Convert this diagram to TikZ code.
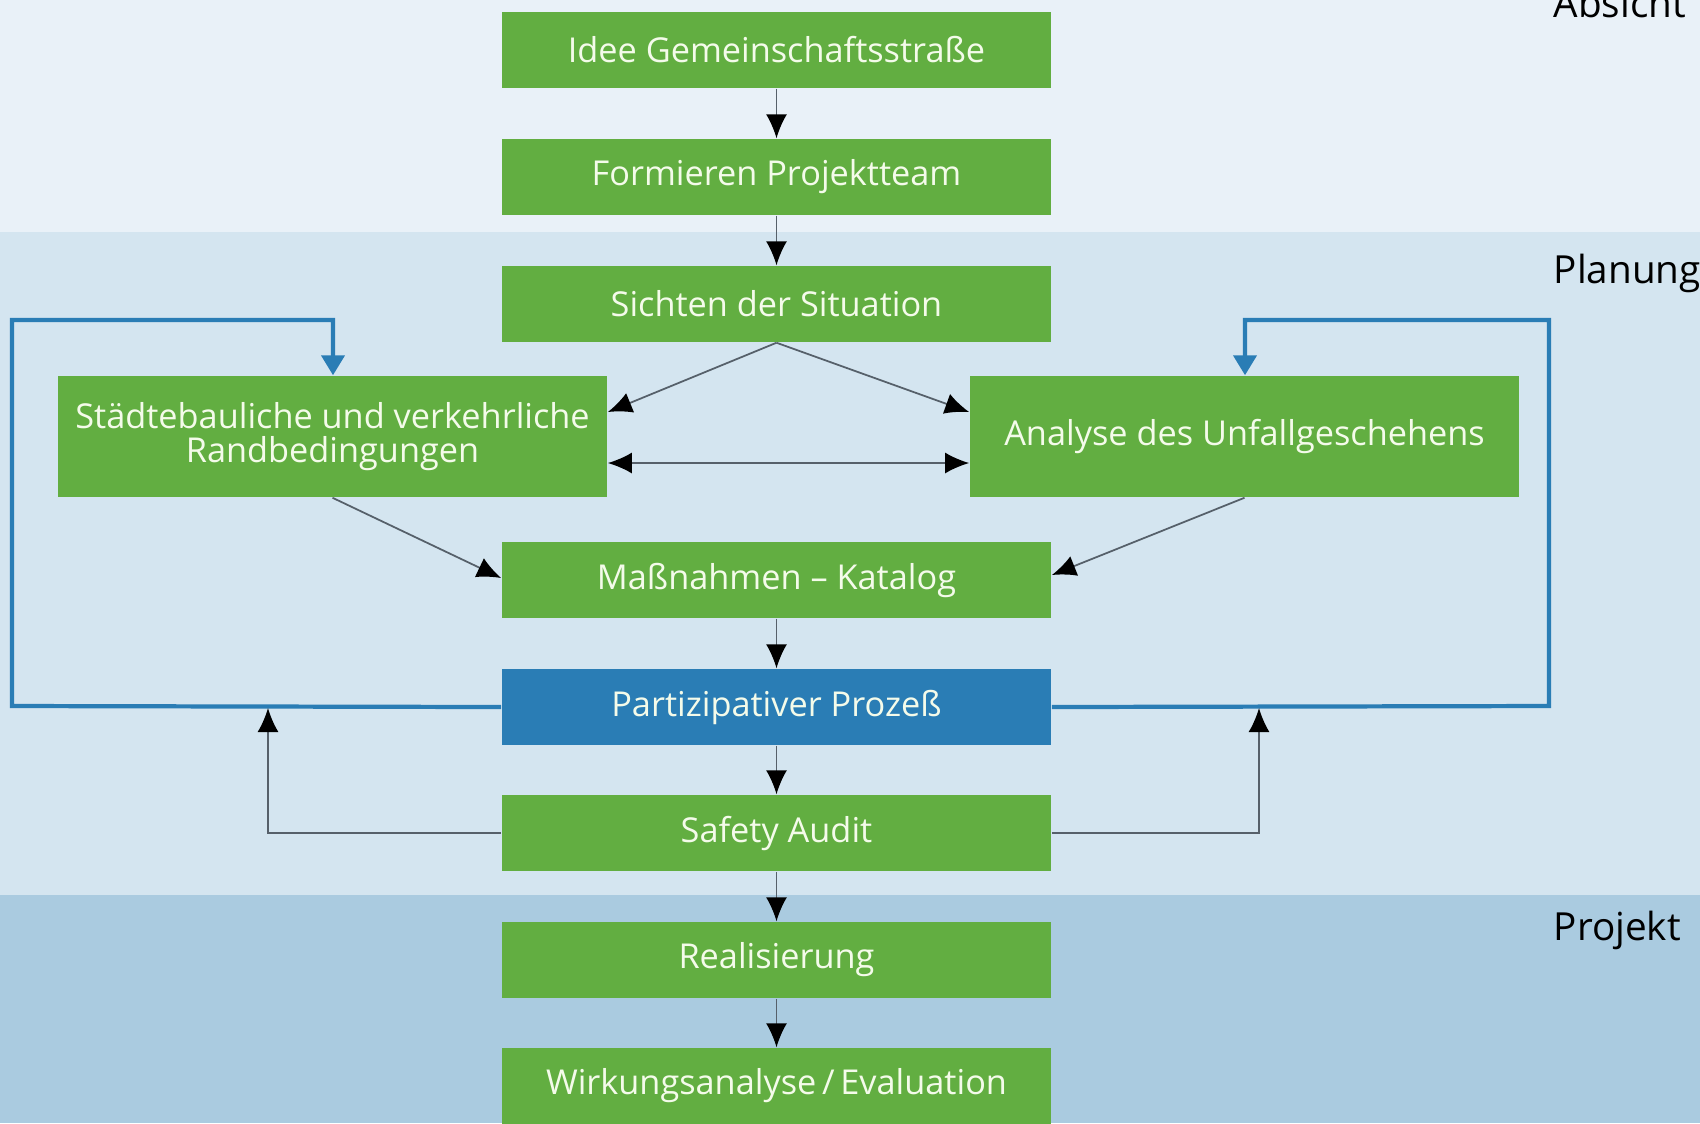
\documentclass[tikz,border=0pt]{standalone}
\usepackage{fontspec}
\setmainfont{Open Sans}
\usetikzlibrary{arrows.meta}
\definecolor{bandA}{HTML}{E9F1F8}
\definecolor{bandB}{HTML}{D4E5F0}
\definecolor{bandC}{HTML}{AACBE0}
\definecolor{boxgreen}{HTML}{62AE41}
\definecolor{boxblue}{HTML}{2A7DB5}
\definecolor{linegray}{HTML}{56606A}
\definecolor{txtlight}{HTML}{F4FBEA}
\tikzset{
  gbox/.style={fill=boxgreen, draw=none, text=txtlight, minimum width=5.49cm, minimum height=0.76cm, inner sep=0pt, align=center, font=\fontsize{9.75}{9.6}\selectfont},
  bbox/.style={gbox, fill=boxblue},
  tipk/.tip={Latex[length=2.4mm,width=2.1mm,black]},
  conn/.style={draw=linegray, line width=0.5pt, -tipk},
  bconn/.style={draw=boxblue, line width=1.2pt, -{Triangle[length=2mm,width=2.3mm]}},
  phase/.style={anchor=base west, inner sep=0pt, text=black, font=\fontsize{11}{12}\selectfont}
}
\begin{document}
\begin{tikzpicture}[x=0.01cm,y=-0.01cm]
\useasboundingbox (0,0) rectangle (1700,1123);
\fill[bandA] (0,0) rectangle (1700,232);
\fill[bandB] (0,232) rectangle (1700,895);
\fill[bandC] (0,895) rectangle (1700,1123);
\node[phase] (lA) at (1553,17) {Absicht};
\node[phase] (lB) at (1553,283) {Planung};
\node[phase] (lC) at (1553,940) {Projekt};

\node[gbox] (idee) at (776.5,50) {Idee Gemeinschaftsstraße};
\node[gbox] (form) at (776.5,177) {Formieren Projektteam};
\node[gbox] (sicht) at (776.5,304) {Sichten der Situation};
\node[gbox, minimum height=1.21cm] (staedt) at (332.5,436.5) {Städtebauliche und verkehrliche\\Randbedingungen};
\node[gbox, minimum height=1.21cm] (anal) at (1244.5,436.5) {Analyse des Unfallgeschehens};
\node[gbox] (mass) at (776.5,580) {Maßnahmen – Katalog};
\node[bbox] (part) at (776.5,707) {Partizipativer Prozeß};
\node[gbox] (safe) at (776.5,833) {Safety Audit};
\node[gbox] (real) at (776.5,960) {Realisierung};
\node[gbox] (wirk) at (776.5,1086) {Wirkungsanalyse\,/\,Evaluation};

\draw[conn] (idee) -- (form);
\draw[conn] (form) -- (sicht);
\draw[conn] (sicht.south) -- (staedt.east |- 0,412);
\draw[conn] (sicht.south) -- (anal.west |- 0,412);
\draw[conn, tipk-tipk] (staedt.east |- 0,463) -- (anal.west |- 0,463);
\draw[conn] (staedt.south) -- (mass.west |- 0,578);
\draw[conn] (anal.south) -- (mass.east |- 0,575);
\draw[conn] (mass) -- (part);
\draw[conn] (part) -- (safe);
\draw[conn] (safe) -- (real);
\draw[conn] (real) -- (wirk);

\coordinate (bl) at (12,706);
\coordinate (br) at (1549,706);
\draw[bconn] (part.west) -- (bl) -- (12,320) -- (333,320) -- (staedt.north -| 333,0);
\draw[bconn] (part.east) -- (br) -- (1549,320) -- (1245,320) -- (anal.north -| 1245,0);

\coordinate (al) at (268,708);
\coordinate (ar) at (1259,708);
\draw[conn] (safe.west) -| (al);
\draw[conn] (safe.east) -| (ar);
\end{tikzpicture}
\end{document}
